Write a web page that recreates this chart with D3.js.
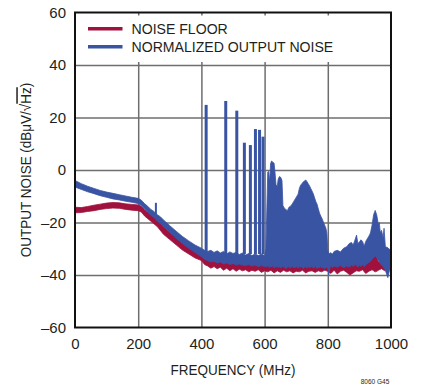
<!DOCTYPE html>
<html>
<head>
<meta charset="utf-8">
<script src="https://cdn.jsdelivr.net/npm/d3@7"></script>
<style>
  body { margin: 0; background: #fff; }
  svg { display: block; }
</style>
</head>
<body>
<svg id="chart" width="422" height="385"></svg>
<script>
// --- Data ---
const xTicks = [0, 200, 400, 600, 800, 1000];
const yTicks = [-60, -40, -20, 0, 20, 40, 60];

// noise floor band: frequency (MHz), lower / upper edge (dBuV/rtHz)
const redFreq = [0, 20, 40, 60, 80, 100, 120, 140, 160, 180, 200, 210, 220, 240, 260, 280, 300, 320, 340, 360, 380, 400,
  410, 420, 430, 440, 450, 460, 470, 480, 490, 500, 510, 520, 530, 540, 550, 560, 570, 580, 590, 600,
  610, 620, 630, 640, 650, 660, 670, 680, 690, 700, 710, 720, 730, 740, 750, 760, 770, 780, 790, 800,
  810, 820, 830, 840, 850, 860, 870, 880, 890, 900, 910, 920, 930, 940, 945, 950, 955, 960, 970, 980, 990, 1000];
const redLo = [-16.3, -16.2, -15.8, -15.5, -15.0, -14.7, -14.5, -14.6, -15.0, -15.3, -15.5, -16.0, -17.5, -19.5, -21.5, -24.5, -26.5, -28.5, -30.5, -32.0, -33.5, -34.5,
  -36.0, -36.6, -37.4, -36.8, -37.6, -37.0, -38.2, -37.4, -38.4, -37.6, -38.6, -37.8, -38.4, -38.0, -38.8, -38.2, -38.6, -38.0, -39.0, -38.4,
  -38.8, -38.2, -39.2, -38.4, -39.0, -38.2, -38.8, -38.4, -39.2, -38.6, -38.8, -38.2, -39.2, -38.6, -38.4, -39.0, -38.4, -38.8, -38.2, -38.6,
  -39.4, -38.2, -39.6, -38.6, -38.2, -39.0, -40.0, -39.2, -38.4, -38.6, -38.0, -39.4, -38.6, -38.0, -38.4, -38.8, -38.6, -38.2, -37.6, -38.4, -37.2, -36.6];
const redHi = [-14.2, -14.3, -13.9, -13.4, -13.0, -12.6, -12.4, -12.5, -12.9, -13.1, -13.3, -13.8, -15.0, -17.0, -19.0, -21.5, -23.5, -25.5, -27.5, -29.3, -30.8, -32.0,
  -33.0, -33.5, -34.0, -34.0, -34.5, -34.5, -35.0, -35.0, -35.0, -35.0, -35.0, -35.5, -35.5, -35.5, -35.5, -35.5, -35.5, -35.5, -35.5, -36.0,
  -35.5, -35.5, -35.5, -35.5, -35.5, -35.5, -35.5, -35.5, -35.5, -35.5, -35.5, -35.5, -35.5, -35.5, -35.5, -35.5, -35.5, -35.5, -35.5, -35.5,
  -35.5, -35.5, -35.5, -35.5, -35.5, -35.5, -35.5, -35.5, -35.0, -35.0, -35.0, -35.0, -34.5, -34.0, -33.0, -32.4, -33.0, -35.0, -35.0, -35.5, -35.5, -35.0];

// normalized output noise band
const blueFreq = [0, 20, 40, 60, 80, 100, 120, 140, 160, 180, 200, 210, 220, 230, 240, 250, 260, 270, 280, 300, 320, 340, 360, 380, 400,
  410, 420, 430, 440, 450, 460, 470, 480, 490, 500, 510, 520, 530, 540, 550, 560, 570, 580, 590, 600,
  604, 606, 610, 613, 616, 619, 622, 626, 630, 633, 636, 640, 643, 647, 651, 655, 658, 662, 667, 672, 677, 682, 687, 692, 697,
  702, 706, 710, 714, 718, 722, 726, 730, 734, 738, 742, 746, 750, 754, 758, 762, 766, 770, 774, 778, 782, 786, 790, 794, 797, 800,
  803, 808, 815, 820, 830, 840, 850, 860, 868, 875, 880, 885, 891, 895, 900, 905, 910, 915, 920, 925, 930, 935, 940, 945, 950,
  955, 960, 963, 966, 970, 975, 978, 982, 986, 990, 995, 1000];
const blueHi = [-4.0, -5.2, -6.2, -7.0, -7.8, -8.4, -8.9, -9.4, -9.9, -10.4, -10.8, -11.5, -12.8, -13.8, -15.0, -15.8, -17.0, -17.8, -19.0, -21.2, -23.3, -25.3, -27.0, -28.6, -29.8,
  -30.6, -31.0, -30.6, -31.4, -30.8, -31.6, -31.0, -32.0, -31.2, -31.8, -31.4, -32.2, -31.6, -32.4, -31.8, -32.6, -32.0, -32.6, -32.0, -32.6,
  -30.0, -20.0, -0.8, -0.6, -4.5, 2.5, 3.4, 3.0, 2.6, -1.0, -5.5, -6.3, -3.5, -2.5, -2.8, -4.0, -13.5, -14.5, -15.0, -15.5, -14.2, -13.8, -13.0, -12.0, -11.0,
  -10.0, -9.2, -7.0, -5.8, -5.2, -4.6, -4.2, -3.8, -4.4, -5.2, -6.0, -7.0, -8.0, -9.0, -10.5, -12.0, -13.0, -14.8, -16.5, -17.6, -18.6, -19.8, -21.0, -22.2, -24.0, -30.5,
  -32.0, -31.5, -32.0, -31.0, -30.6, -31.2, -29.8, -29.2, -28.0, -27.6, -28.6, -27.0, -24.8, -28.0, -27.4, -26.6, -27.2, -29.0, -27.2, -26.2, -25.2, -24.0, -21.0, -17.0, -15.4,
  -17.2, -20.8, -20.0, -23.8, -23.0, -25.8, -22.2, -29.0, -29.4, -29.6, -30.2, -30.0];
const blueLo = [-6.5, -7.4, -8.3, -9.0, -9.8, -10.4, -11.0, -11.4, -11.9, -12.3, -12.8, -13.5, -14.8, -16.0, -17.2, -18.0, -19.4, -20.4, -21.6, -23.8, -26.0, -28.0, -29.8, -31.4, -33.0,
  -34.0, -34.6, -35.0, -34.8, -35.4, -35.0, -35.8, -35.4, -36.0, -35.6, -36.2, -35.8, -36.2, -36.4, -36.0, -36.6, -36.2, -36.8, -36.4, -36.8,
  -36.6, -37.0, -36.4, -36.8, -37.2, -36.6, -37.0, -36.4, -37.4, -36.8, -37.0, -36.6, -37.2, -36.8, -37.4, -36.6, -37.0, -36.8, -37.6, -37.0, -36.8, -37.4, -36.6, -37.2, -37.0,
  -36.8, -37.4, -36.8, -37.2, -36.6, -37.6, -37.0, -36.8, -37.4, -36.8, -37.2, -37.0, -36.6, -37.4, -37.0, -36.8, -37.6, -37.0, -37.2, -36.8, -37.4, -37.0, -37.6, -37.2, -37.0, -37.4,
  -40.0, -36.5, -37.2, -36.6, -37.0, -36.4, -37.2, -36.6, -37.0, -36.2, -36.8, -36.0, -36.4, -37.0, -36.2, -36.8, -36.0, -36.8, -36.2, -35.6, -35.2, -34.8, -34.0, -33.2, -32.8,
  -33.4, -34.4, -35.0, -35.6, -36.2, -36.8, -37.4, -38.2, -39.6, -41.0, -38.4, -37.0];

// discrete spurs on the output noise trace
const spurFreq = [256, 415, 477, 512, 536, 555, 571, 584, 595];
const spurBase = [-17.0, -32.0, -32.0, -32.0, -32.0, -32.0, -32.0, -32.0, -32.0];
const spurPeak = [-12.5, 24.8, 26.3, 22.6, 10.4, 9.5, 15.6, 15.3, 12.7];

const RED = '#a0113d';
const BLUE = '#3a54a4';
const FONT = '"Liberation Sans", Arial, sans-serif';
const TEXT = '#231f20';

// --- Layout ---
const margin = { top: 12.5, right: 31, bottom: 57.5, left: 75 };
const W = 422, H = 385;
const w = W - margin.left - margin.right;
const h = H - margin.top - margin.bottom;

const svg = d3.select('#chart');
const g = svg.append('g').attr('transform', `translate(${margin.left},${margin.top})`);

const x = d3.scaleLinear().domain([0, 1000]).range([0, w]);
const y = d3.scaleLinear().domain([-60, 60]).range([h, 0]);

// condensed look: Arial squeezed horizontally
const squeeze = 0.94;

// gridlines
g.append('g')
  .attr('transform', `translate(0,${h})`)
  .call(d3.axisBottom(x).tickValues(xTicks.slice(1, -1)).tickSize(-h).tickFormat(''))
  .call(s => s.select('.domain').remove())
  .call(s => s.selectAll('line').attr('stroke', '#6e6e6e').attr('stroke-width', 1.5));
g.append('g')
  .call(d3.axisLeft(y).tickValues(yTicks.slice(1, -1)).tickSize(-w).tickFormat(''))
  .call(s => s.select('.domain').remove())
  .call(s => s.selectAll('line').attr('stroke', '#6e6e6e').attr('stroke-width', 1.5));

// traces
const band = (f, lo, hi) => d3.area()
  .x((d, i) => x(f[i]))
  .y0((d, i) => y(lo[i]))
  .y1((d, i) => y(hi[i]))(f);

g.append('path')
  .attr('d', band(redFreq, redLo, redHi))
  .attr('fill', RED).attr('stroke', RED).attr('stroke-width', 0.8);

g.append('path')
  .attr('d', band(blueFreq, blueLo, blueHi))
  .attr('fill', BLUE).attr('stroke', BLUE).attr('stroke-width', 0.8);

g.append('g').selectAll('line')
  .data(spurFreq)
  .join('line')
  .attr('x1', d => x(d)).attr('x2', d => x(d))
  .attr('y1', (d, i) => y(spurBase[i]))
  .attr('y2', (d, i) => y(spurPeak[i]))
  .attr('stroke', BLUE)
  .attr('stroke-width', (d, i) => i === 0 ? 2 : 3);

// legend (white box hides the grid behind it)
g.append('rect')
  .attr('x', 2).attr('y', 3)
  .attr('width', 263).attr('height', 46.5)
  .attr('fill', '#fff');

const legend = [
  { label: 'NOISE FLOOR', color: RED },
  { label: 'NORMALIZED OUTPUT NOISE', color: BLUE },
];
legend.forEach((d, i) => {
  const ly = 16.2 + i * 18;
  g.append('line')
    .attr('x1', 13).attr('x2', 47.5)
    .attr('y1', ly).attr('y2', ly)
    .attr('stroke', d.color).attr('stroke-width', 3.5);
  g.append('text')
    .attr('transform', `translate(56.5,${ly + 5.6}) scale(${squeeze},1)`)
    .attr('fill', TEXT)
    .attr('font-family', FONT)
    .attr('font-size', 15)
    .text(d.label);
});

// frame
g.append('rect')
  .attr('width', w).attr('height', h)
  .attr('fill', 'none')
  .attr('stroke', '#111').attr('stroke-width', 2);

// tick labels
g.append('g')
  .attr('transform', `translate(0,${h})`)
  .call(d3.axisBottom(x).tickValues(xTicks).tickSize(0).tickPadding(11).tickFormat(d3.format('d')))
  .call(s => s.select('.domain').remove())
  .call(s => s.selectAll('text')
    .attr('fill', TEXT).attr('font-family', FONT).attr('font-size', 15));

g.append('g')
  .call(d3.axisLeft(y).tickValues(yTicks).tickSize(0).tickPadding(9).tickFormat(d => d < 0 ? '\u2013' + Math.abs(d) : d))
  .call(s => s.select('.domain').remove())
  .call(s => s.selectAll('text')
    .attr('fill', TEXT).attr('font-family', FONT).attr('font-size', 15));

// axis titles
svg.append('text')
  .attr('transform', `translate(${margin.left + w / 2},375) scale(0.9,1)`)
  .attr('text-anchor', 'middle')
  .attr('fill', TEXT)
  .attr('font-family', FONT)
  .attr('font-size', 15)
  .text('FREQUENCY (MHz)');

const yTitle = svg.append('text')
  .attr('transform', `translate(31,${margin.top + h / 2}) rotate(-90) scale(0.9,1)`)
  .attr('text-anchor', 'middle')
  .attr('fill', TEXT)
  .attr('font-family', FONT)
  .attr('font-size', 15);
yTitle.append('tspan').text('OUTPUT NOISE (dB\u03bcV/\u221a');
yTitle.append('tspan').style('text-decoration', 'overline').text('Hz');
yTitle.append('tspan').text(')');

// figure code at the bottom edge
svg.append('text')
  .attr('x', 375).attr('y', 384)
  .attr('text-anchor', 'middle')
  .attr('fill', TEXT)
  .attr('font-family', FONT)
  .attr('font-size', 6.5)
  .text('8060 G45');
</script>
</body>
</html>
